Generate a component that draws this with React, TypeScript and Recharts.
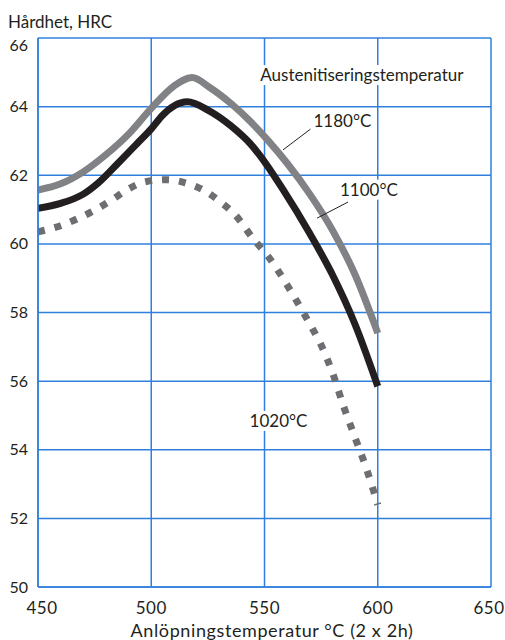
import React from "react";
import {
  LineChart,
  Line,
  XAxis,
  YAxis,
  CartesianGrid,
  ReferenceLine,
  ReferenceDot,
  Customized,
} from "recharts";

const temps1180 = [450, 460, 470, 480, 490, 500, 510, 518, 526, 535, 544, 552, 560, 570, 580, 590, 600];
const hrc1180 = [61.57, 61.75, 62.1, 62.6, 63.2, 63.95, 64.6, 64.85, 64.55, 64.1, 63.55, 62.98, 62.35, 61.45, 60.4, 59.1, 57.4];

const temps1100 = [450, 460, 470, 477, 485, 494, 500, 505, 510, 516, 525, 535, 544, 551, 558, 570, 580, 590, 600];
const hrc1100 = [61.04, 61.18, 61.45, 61.8, 62.33, 62.94, 63.35, 63.75, 64.02, 64.14, 63.9, 63.45, 62.9, 62.3, 61.6, 60.3, 59.1, 57.65, 55.85];

const temps1020 = [450, 460, 468, 476, 483, 490, 498, 507, 515, 523, 530, 537, 545, 552, 560, 566, 571, 575, 580, 585, 590, 595, 600];
const hrc1020 = [60.35, 60.53, 60.75, 61.02, 61.3, 61.6, 61.82, 61.87, 61.78, 61.57, 61.25, 60.85, 60.15, 59.6, 58.8, 58.13, 57.55, 57.05, 56.25, 55.25, 54.35, 53.45, 52.4];

const xTicks = [450, 500, 550, 600, 650];
const yTicks = [50, 52, 54, 56, 58, 60, 62, 64, 66];

const yTitle = "Hårdhet, HRC";
const xTitle = "Anlöpningstemperatur °C (2 x 2h)";

const labels = [
  { t: 593, h: 64.92, text: "Austenitiseringstemperatur", w: 222 },
  { t: 584.4, h: 63.58, text: "1180°C", w: 64 },
  { t: 596.1, h: 61.58, text: "1100°C", w: 64 },
  { t: 556.2, h: 54.84, text: "1020°C", w: 60 },
];

const leaders = [
  { x1: 571.0, y1: 63.38, x2: 558.2, y2: 62.74 },
  { x1: 586.9, y1: 61.22, x2: 573.2, y2: 60.75 },
];

const toData = (ts: number[], hs: number[]) => ts.map((t, i) => ({ t, h: hs[i] }));

const d1180 = toData(temps1180, hrc1180);
const d1100 = toData(temps1100, hrc1100);
const d1020 = toData(temps1020, hrc1020);

const BLUE = "#2f80dc";
const FONT = "Lato, 'Open Sans', sans-serif";
const TEXT = "#231f20";

const Titles = () => (
  <g>
    <text x={8} y={28} fontSize={17} fill={TEXT} fontFamily={FONT}>
      {yTitle}
    </text>
    <text x={272} y={637} fontSize={18} fill={TEXT} fontFamily={FONT} textAnchor="middle" letterSpacing={0.6}>
      {xTitle}
    </text>
  </g>
);

const YTick = (p: any) => {
  const v = p.payload.value;
  const shift = v === 66 ? 7 : 0;
  return (
    <text x={p.x} y={p.y + shift} dy="0.35em" textAnchor="end" fontSize={16} fill={TEXT} fontFamily={FONT}>
      {v}
    </text>
  );
};

const XTick = (p: any) => {
  const v = p.payload.value;
  const shift = v === 450 ? 4 : v === 650 ? -2 : 0;
  return (
    <text x={p.x + shift} y={p.y} dy="0.71em" textAnchor="middle" fontSize={17} fill={TEXT} fontFamily={FONT} letterSpacing={0.4}>
      {v}
    </text>
  );
};

export default function App() {
  return (
    <div style={{ position: "absolute", left: 0, top: 0, background: "#fff" }}>
      <LineChart
        width={505}
        height={640}
        margin={{ top: 38, right: 14, left: 0, bottom: 0 }}
      >
        <CartesianGrid stroke={BLUE} strokeWidth={1.5} horizontalValues={yTicks} verticalValues={xTicks} />
        <XAxis
          type="number"
          dataKey="t"
          domain={[450, 650]}
          ticks={xTicks}
          allowDataOverflow
          height={53}
          tickLine={false}
          axisLine={{ stroke: BLUE, strokeWidth: 1.5 }}
          tickMargin={9}
          tick={<XTick />}
          interval={0}
        />
        <YAxis
          type="number"
          domain={[50, 66]}
          ticks={yTicks}
          allowDataOverflow
          width={38}
          tickLine={false}
          axisLine={{ stroke: BLUE, strokeWidth: 1.5 }}
          tickMargin={4}
          tick={<YTick />}
          interval={0}
        />
        <Line
          data={d1020}
          dataKey="h"
          type="monotone"
          stroke="#6d6e71"
          strokeWidth={7}
          strokeDasharray="7 10"
          dot={false}
          activeDot={false}
          isAnimationActive={false}
        />
        <Line
          data={d1180}
          dataKey="h"
          type="monotone"
          stroke="#808285"
          strokeWidth={7}
          dot={false}
          activeDot={false}
          isAnimationActive={false}
        />
        <Line
          data={d1100}
          dataKey="h"
          type="monotone"
          stroke="#231f20"
          strokeWidth={7}
          dot={false}
          activeDot={false}
          isAnimationActive={false}
        />
        {leaders.map((l, i) => (
          <ReferenceLine
            key={"l" + i}
            segment={[
              { x: l.x1, y: l.y1 },
              { x: l.x2, y: l.y2 },
            ]}
            stroke={TEXT}
            strokeWidth={1}
          />
        ))}
        {labels.map((lb, i) => (
          <ReferenceDot
            key={"d" + i}
            x={lb.t}
            y={lb.h}
            r={1}
            ifOverflow="visible"
            shape={(p: any) => (
              <g>
                <rect x={p.cx - lb.w / 2} y={p.cy - 10} width={lb.w} height={20} fill="#fff" />
                <text
                  x={p.cx}
                  y={p.cy + 6}
                  textAnchor="middle"
                  fontSize={17}
                  fill={TEXT}
                  fontFamily={FONT}
                >
                  {lb.text}
                </text>
              </g>
            )}
          />
        ))}
        <Customized component={Titles} />
      </LineChart>
    </div>
  );
}
